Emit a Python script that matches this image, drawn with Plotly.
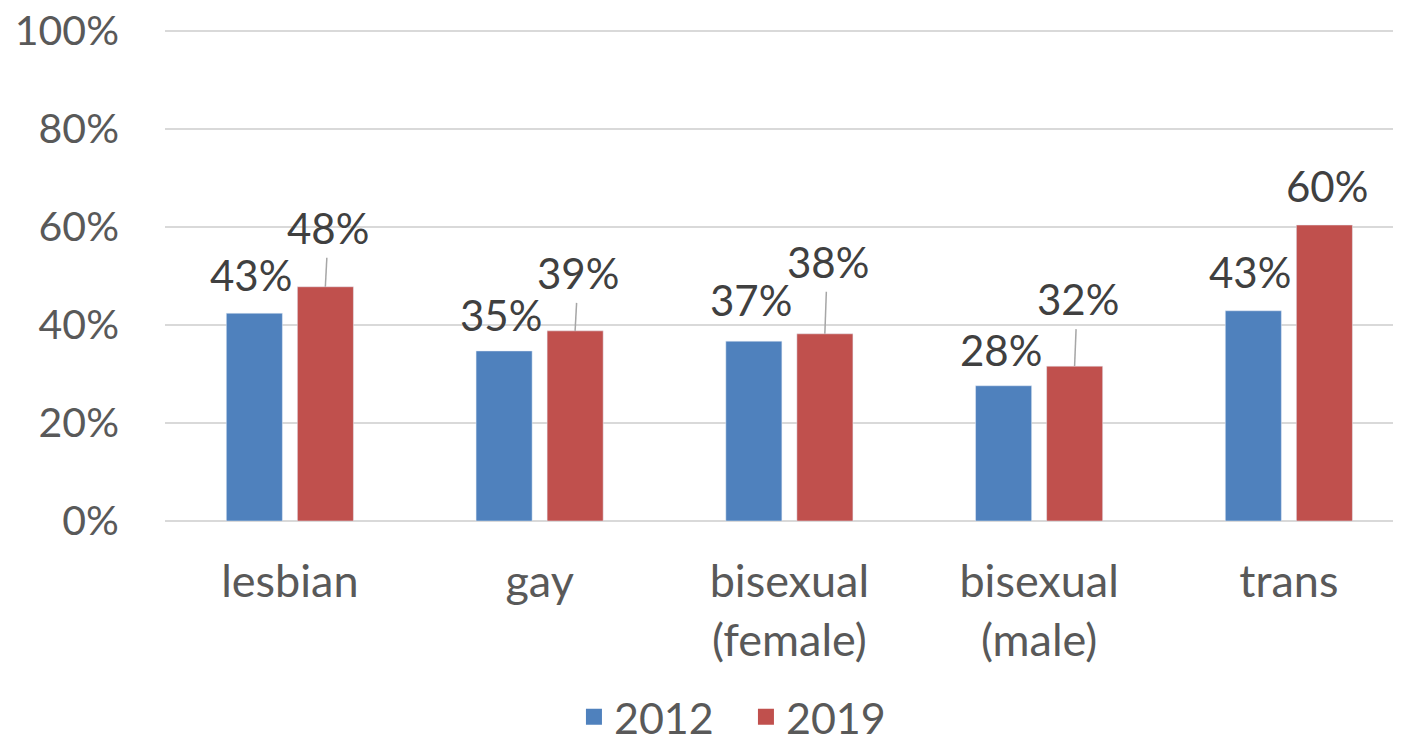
import plotly.graph_objects as go

categories = ["lesbian", "gay", "bisexual<br>(female)", "bisexual<br>(male)", "trans"]
years = ["2012", "2019"]
values_2012 = [0.424, 0.347, 0.367, 0.276, 0.429]
values_2019 = [0.478, 0.388, 0.382, 0.316, 0.604]
labels_2012 = ["43%", "35%", "37%", "28%", "43%"]
labels_2019 = ["48%", "39%", "38%", "32%", "60%"]

# label placement tweaks (pixels above bar top), leader line shown where lifted
lift_2012 = [38, 36, 41, 36, 39]
lift_2019 = [59, 58, 72, 67, 39]
leader_2019 = [True, True, True, True, False]

blue = "#4F81BD"
red = "#C0504D"
font = "Lato, 'Open Sans', sans-serif"
half = 0.142

fig = go.Figure()
fig.add_bar(name=years[0], x=categories, y=values_2012, marker_color=blue, showlegend=False)
fig.add_bar(name=years[1], x=categories, y=values_2019, marker_color=red, showlegend=False)
# legend entries with bigger square swatches
for name, col in zip(years, [blue, red]):
    fig.add_scatter(name=name, x=[None], y=[None], mode="markers",
                    marker=dict(symbol="square", size=25, color=col))

for i in range(len(categories)):
    fig.add_annotation(x=i - half - 0.012, y=values_2012[i], text=labels_2012[i],
                       showarrow=False, yshift=lift_2012[i], yanchor="middle",
                       font=dict(size=42, color="#404040", family=font))
    fig.add_annotation(x=i + half + 0.012, y=values_2019[i], text=labels_2019[i],
                       showarrow=False, yshift=lift_2019[i], yanchor="middle",
                       font=dict(size=42, color="#404040", family=font))
    if leader_2019[i]:
        fig.add_shape(type="line", xref="x", yref="y", ysizemode="pixel",
                      yanchor=values_2019[i], x0=i + half, x1=i + half + 0.006,
                      y0=0, y1=lift_2019[i] - 30,
                      line=dict(color="#A6A6A6", width=1.5))

fig.update_layout(
    width=1401, height=740,
    margin=dict(l=157, r=0, t=21, b=227, autoexpand=False),
    paper_bgcolor="white", plot_bgcolor="white",
    font=dict(family=font, size=42, color="#595959"),
    barmode="group", bargap=0.431, bargroupgap=0.211,
    showlegend=True,
    legend=dict(orientation="h", x=0.467, xanchor="center", y=-0.398, yanchor="middle",
                font=dict(size=43, color="#595959"), itemwidth=30, tracegroupgap=0,
                entrywidth=127, entrywidthmode="pixels"),
)
fig.update_yaxes(range=[0, 1.004], dtick=0.2, tickformat=".0%", showgrid=True,
                 gridcolor="#D9D9D9", gridwidth=2, zeroline=True, zerolinecolor="#D9D9D9",
                 zerolinewidth=2, showline=False, ticklabelstandoff=45, automargin=False,
                 ticklabeloverflow="allow", tickfont=dict(size=41, color="#595959"))
fig.update_xaxes(range=[-0.5, 4.481], showgrid=False, showline=False, automargin=False,
                 ticklabelstandoff=30, tickfont=dict(size=45, color="#595959"))

fig.write_html("out.html")
